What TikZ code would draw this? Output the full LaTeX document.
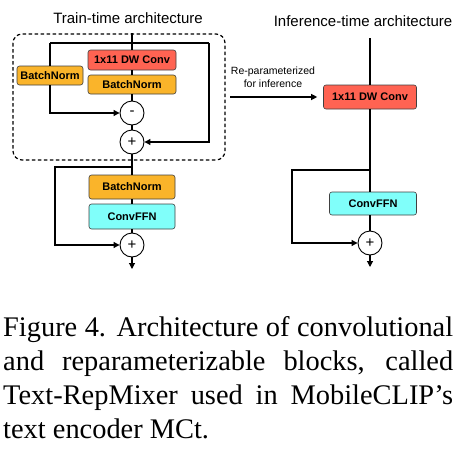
\documentclass[tikz,border=0pt]{standalone}
\usepackage{fontspec}
\setmainfont{Liberation Serif}
\setsansfont{Liberation Sans}
\usetikzlibrary{arrows.meta}
\definecolor{dwred}{RGB}{255,99,82}
\definecolor{bnorange}{RGB}{250,180,42}
\definecolor{ffncyan}{RGB}{128,255,250}
\begin{document}
\begin{tikzpicture}[x=1pt,y=-1pt,
  blk/.style={draw=black!75, line width=0.6pt, rounded corners=2.5pt, inner sep=0pt,
    font=\sffamily\bfseries\fontsize{11}{13}\selectfont},
  redblk/.style={blk, fill=dwred},
  orblk/.style={blk, fill=bnorange},
  cyblk/.style={blk, fill=ffncyan},
  op/.style={circle, draw, line width=0.9pt, minimum size=24pt, inner sep=0pt, fill=white,
    font=\sffamily\fontsize{15}{15}\selectfont},
  conn/.style={line width=1.1pt},
  arr/.style={conn, -{Triangle[length=6pt,width=6pt]}},
  ttl/.style={font=\sffamily\fontsize{15}{18}\selectfont, inner sep=0pt, anchor=base},
  captext/.style={font=\fontsize{28.4}{33.9}\selectfont, inner sep=0pt, anchor=base west},
  dashframe/.style={line width=1.2pt, dash pattern=on 3.5pt off 2.5pt, rounded corners=9pt}
]
\useasboundingbox (0,0) rectangle (458,453);

% titles
\node[ttl] (t1) at (128,23.5) {Train-time architecture};
\node[ttl] (t2) at (363,26) {Inference-time architecture};

% ---------- train-time ----------
\draw[dashframe] (13,34) rectangle (225,160);
\coordinate (top1) at (132,33);
\node[redblk, minimum width=88pt, minimum height=20pt] (dw1) at (132,60) {1x11 DW Conv};
\node[orblk, minimum width=88pt, minimum height=19pt] (bn1) at (132,84.5) {BatchNorm};
\node[orblk, minimum width=66pt, minimum height=19pt] (bnL) at (50,75.5) {BatchNorm};
\node[op] (mi) at (132,113) {-};
\node[op] (p1) at (132,142) {+};
\node[orblk, minimum width=86pt, minimum height=24pt] (bn2) at (132,187) {BatchNorm};
\node[cyblk, minimum width=86pt, minimum height=25pt] (ffn1) at (132,216.5) {ConvFFN};
\node[op] (p2) at (132,245) {+};
\coordinate (end1) at (132,269);

\coordinate (s1) at (132,43);
\coordinate (s1L) at (50,43);
\coordinate (s1R) at (209,43);
\coordinate (s2) at (132,167);
\coordinate (s2L) at (55,167);

\draw[conn] (top1) -- (dw1.north);
\draw[conn] (dw1.south) -- (bn1.north);
\draw[conn] (bn1.south) -- (mi.north);
\draw[conn] (mi.south) -- (p1.north);
\draw[conn] (p1.south) -- (bn2.north);
\draw[conn] (bn2.south) -- (ffn1.north);
\draw[conn] (ffn1.south) -- (p2.north);
\draw[arr] (p2.south) -- (end1);

\draw[conn] (s1L) -- (s1R);
\draw[conn] (s1L) -- (bnL.north);
\draw[arr] (bnL.south) |- (mi.west);
\draw[arr] (s1R) |- (p1.east);
\draw[arr] (s2) -- (s2L) |- (p2.west);

% ---------- re-param arrow ----------
\node[font=\sffamily\fontsize{10.5}{13}\selectfont, align=center, inner sep=0pt] (rep) at (273,77.5) {Re-parameterized\\for inference};

% ---------- inference-time ----------
\coordinate (top2) at (370,38);
\node[redblk, minimum width=93pt, minimum height=24pt] (dw2) at (370,97) {1x11 DW Conv};
\node[cyblk, minimum width=87pt, minimum height=23pt] (ffn2) at (373,203.5) {ConvFFN};
\node[op] (p3) at (370,243) {+};
\coordinate (end2) at (370,267);
\coordinate (s3) at (370,170);
\coordinate (s3L) at (292,170);
\coordinate (repS) at (230,97);

\draw[arr, shorten >=6pt] (repS) -- (dw2.west);
\draw[conn] (top2) -- (dw2.north);
\draw[conn] (dw2.south) -- (dw2.south |- ffn2.north);
\draw[conn] (p3.north |- ffn2.south) -- (p3.north);
\draw[arr] (p3.south) -- (end2);
\draw[arr] (s3) -- (s3L) |- (p3.west);

% ---------- caption ----------
\node[captext] (c1) at (3,336.7) {\makebox[450pt][s]{Figure 4. Architecture of convolutional}};
\node[captext] (c2) at (3,370.6) {\makebox[450pt][s]{and reparameterizable blocks, called}};
\node[captext] (c3) at (3,404.5) {\makebox[450pt][s]{Text-RepMixer used in MobileCLIP’s}};
\node[captext] (c4) at (3,438.3) {text encoder MCt.};
\end{tikzpicture}
\end{document}
